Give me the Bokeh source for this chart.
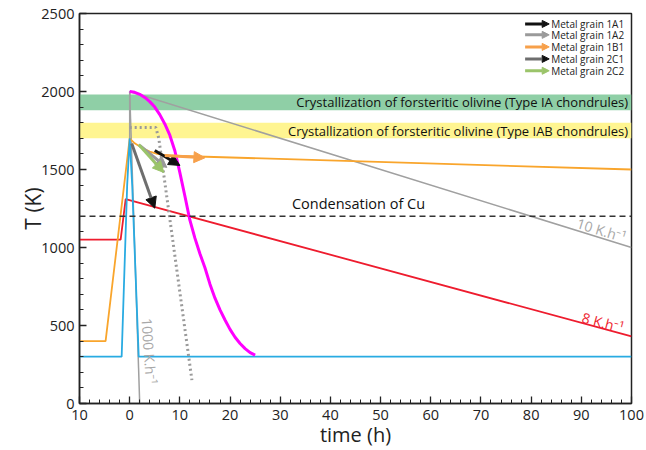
from bokeh.plotting import figure
from bokeh.models import Label, Arrow, NormalHead, BoxAnnotation, Span, FixedTicker
from bokeh.embed import file_html
from bokeh.resources import INLINE

# ---------------- data ----------------
cyan_t = [-10, -1.6, -0.5, 0, 0.5, 1.8, 100]
cyan_T = [300, 300, 1400, 1700, 1400, 300, 300]

orange_t = [-10, -4.8, 0, 1, 2.5, 4, 5.5, 7, 8.5, 100]
orange_T = [400, 400, 1700, 1668, 1638, 1615, 1600, 1592, 1588, 1500]

red_t = [-10, -1.8, -0.8, 100]
red_T = [1050, 1050, 1310, 430]

gray10_t = [0, 0, 100]
gray10_T = [1700, 2000, 1000]

gray1000_t = [0, 2.0]
gray1000_T = [2000, 0]

magenta_t = [0, 1, 2, 3, 4, 5, 6, 7, 8, 9, 10, 11, 12, 13, 14, 15, 16, 17, 18, 19, 20, 21, 22, 23, 24, 25]
magenta_T = [2000, 1995, 1982, 1962, 1935, 1900, 1852, 1792, 1720, 1620, 1480, 1330, 1175, 1060, 960, 870, 765, 675, 600, 535, 475, 425, 385, 352, 326, 310]

dotted_t = [0, 5.2, 5.8, 12.4]
dotted_T = [1770, 1770, 1700, 150]

band_names = ["Crystallization of forsteritic olivine (Type IA chondrules)",
              "Crystallization of forsteritic olivine (Type IAB chondrules)"]
band_low = [1880, 1700]
band_high = [1980, 1800]
band_colors = ["#8fcfa6", "#fff591"]

cu_T = 1200
cu_label = "Condensation of Cu"

grain_names = ["Metal grain 1A1", "Metal grain 1A2", "Metal grain 1B1", "Metal grain 2C1", "Metal grain 2C2"]
grain_shaft = ["#111111", "#9a9a9a", "#f7a04a", "#6e6e6e", "#9bc46a"]
grain_head = ["#111111", "#9a9a9a", "#f7a04a", "#111111", "#9bc46a"]
grain_x0 = [5.0, 2.0, 7.0, 0.4, 1.8]
grain_T0 = [1622, 1654, 1590, 1667, 1660]
grain_x1 = [10.0, 7.4, 15.0, 5.0, 6.8]
grain_T1 = [1526, 1513, 1575, 1252, 1481]

x_ticks = [-10, 0, 10, 20, 30, 40, 50, 60, 70, 80, 90, 100]
x_tick_labels = ["10", "0", "10", "20", "30", "40", "50", "60", "70", "80", "90", "100"]
y_ticks = [0, 500, 1000, 1500, 2000, 2500]

FONT = "Open Sans"

p = figure(width=646, height=450, x_range=(-10, 100), y_range=(0, 2500),
           output_backend="svg", toolbar_location=None,
           min_border_left=79, min_border_right=15, min_border_top=13, min_border_bottom=46)
p.background_fill_color = "white"
p.border_fill_color = "white"
p.outline_line_color = "#222222"
p.outline_line_width = 1.5
p.xgrid.visible = False
p.ygrid.visible = False

# bands
for lo, hi, c, name in zip(band_low, band_high, band_colors, band_names):
    p.add_layout(BoxAnnotation(bottom=lo, top=hi, fill_color=c, fill_alpha=1.0, line_alpha=0, level="underlay"))
    p.add_layout(Label(x=99.3, y=(lo + hi) / 2, text=name, text_align="right", text_baseline="middle",
                       text_font=FONT, text_font_size="13px", text_color="#111111"))

# condensation line
p.add_layout(Span(location=cu_T, dimension="width", line_color="#333333", line_width=1.5, line_dash="6 4"))
p.add_layout(Label(x=45.6, y=cu_T + 20, text=cu_label, text_align="center", text_baseline="bottom",
                   text_font=FONT, text_font_size="14.5px", text_color="#111111"))

# curves
p.line(gray10_t, gray10_T, line_color="#a0a0a0", line_width=1.5)
p.line(gray1000_t, gray1000_T, line_color="#a0a0a0", line_width=1.5)
p.line(red_t, red_T, line_color="#ee1c2e", line_width=1.8)
p.line(orange_t, orange_T, line_color="#f9a52c", line_width=1.8)
p.line(cyan_t, cyan_T, line_color="#29abe2", line_width=1.8)
p.line(dotted_t, dotted_T, line_color="#9a9a9a", line_width=3, line_dash="2 3")
p.line(magenta_t, magenta_T, line_color="#ff00ff", line_width=3)

# grain arrows
for x0, y0, x1, y1, sc, hc in zip(grain_x0, grain_T0, grain_x1, grain_T1, grain_shaft, grain_head):
    p.add_layout(Arrow(x_start=x0, y_start=y0, x_end=x1, y_end=y1, line_color=sc, line_width=3,
                       end=NormalHead(size=11, fill_color=hc, line_color=hc)))

# rate labels
p.add_layout(Label(x=94, y=1112, text="10 K.h\u207b\u00b9", text_align="center", text_baseline="middle",
                   angle=-0.30, text_font=FONT, text_font_size="14px", text_color="#a8a8a8"))
p.add_layout(Label(x=94.3, y=520, text="8 K.h\u207b\u00b9", text_align="center", text_baseline="middle",
                   angle=-0.26, text_font=FONT, text_font_size="14px", text_color="#ee1c2e"))
p.add_layout(Label(x=3.9, y=335, text="1000 K.h\u207b\u00b9", text_align="center", text_baseline="middle",
                   angle=-1.50, text_font=FONT, text_font_size="14px", text_color="#a8a8a8"))

# legend (drawn manually)
leg_T = [2433, 2363, 2286, 2209, 2133]
for name, sc, hc, yy in zip(grain_names, grain_shaft, grain_head, leg_T):
    p.add_layout(Arrow(x_start=78.8, y_start=yy, x_end=83.6, y_end=yy, line_color=sc, line_width=3,
                       end=NormalHead(size=7, fill_color=hc, line_color=hc)))
    p.add_layout(Label(x=84.0, y=yy, text=name, text_align="left", text_baseline="middle",
                       text_font=FONT, text_font_size="10px", text_color="#222222"))

# axes
for ax in (p.xaxis[0], p.yaxis[0]):
    ax.axis_line_width = 1.5
    ax.axis_line_color = "#222222"
    ax.major_tick_in = 7
    ax.major_tick_out = 0
    ax.minor_tick_in = 4
    ax.minor_tick_out = 0
    ax.major_tick_line_color = "#222222"
    ax.minor_tick_line_color = "#222222"
    ax.major_tick_line_width = 1.3
    ax.minor_tick_line_width = 1.0
    ax.major_label_text_font = FONT
    ax.major_label_text_font_size = "14.5px"
    ax.major_label_text_color = "#222222"
    ax.axis_label_text_font = FONT
    ax.axis_label_text_font_style = "normal"
    ax.axis_label_text_color = "#222222"

p.xaxis[0].ticker = FixedTicker(ticks=x_ticks, minor_ticks=[v for v in range(-10, 101, 2)])
p.xaxis[0].major_label_overrides = {t: s for t, s in zip(x_ticks, x_tick_labels)}
p.yaxis[0].ticker = FixedTicker(ticks=y_ticks, minor_ticks=[v for v in range(0, 2501, 100)])
p.xaxis[0].axis_label = "time (h)"
p.xaxis[0].axis_label_text_font_size = "20px"
p.xaxis[0].axis_label_standoff = -2
p.xaxis[0].major_label_standoff = 6
p.yaxis[0].axis_label = "T (K)"
p.yaxis[0].axis_label_text_font_size = "21px"
p.yaxis[0].axis_label_standoff = -9
p.yaxis[0].major_label_standoff = 5

open("out.html", "w").write(file_html(p, INLINE))
